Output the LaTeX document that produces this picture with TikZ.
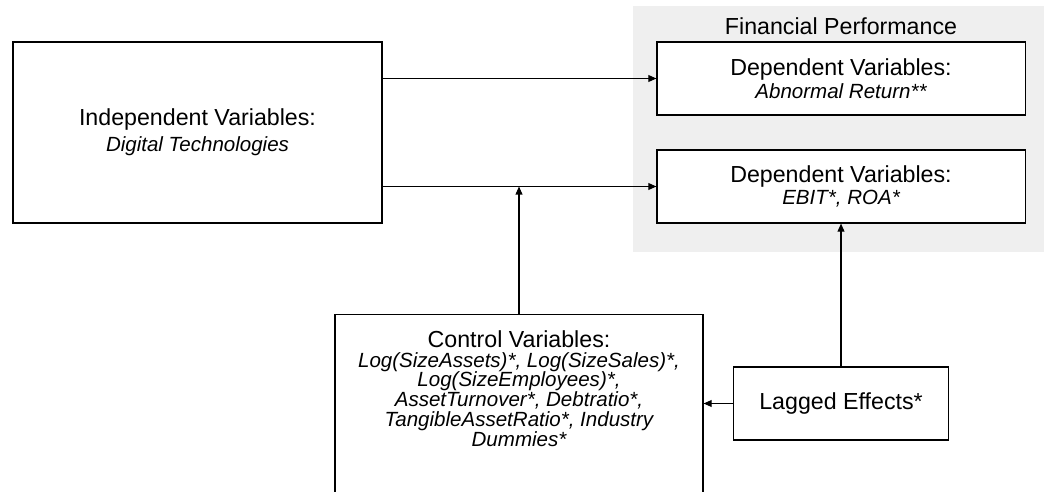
\documentclass[tikz,border=0pt]{standalone}
\usepackage{fontspec}
\setmainfont{Liberation Sans}
\usetikzlibrary{arrows.meta}

\definecolor{panelgray}{RGB}{239,239,239}
\newcommand{\headfont}{\fontsize{16.5}{14}\selectfont}
\newcommand{\varfont}{\fontsize{14.6}{14}\selectfont\itshape}

\begin{document}
\begin{tikzpicture}[x=0.025cm,y=-0.025cm,font=\headfont,
  box/.style={draw,line width=0.8pt,fill=white,align=center,inner sep=0pt},
  arr/.style={-{Triangle[length=0.2cm,width=0.17cm]},line width=0.8pt}]
\useasboundingbox (0,0) rectangle (1044,492);

% financial performance panel
\fill [panelgray] (633,6) rectangle (1044,252);
\node (title) at (841,26) {Financial Performance};

\node [box,minimum width=9.225cm,minimum height=4.525cm] (indep) at (197.5,132.5)
  {Independent Variables:\\[0.13cm]{\varfont Digital Technologies}};
\node [box,minimum width=9.2cm,minimum height=1.825cm] (dep1) at (841,78.5)
  {Dependent Variables:\\[0.05cm]{\varfont Abnormal Return**}};
\node [box,minimum width=9.2cm,minimum height=1.825cm] (dep2) at (841,186.5)
  {Dependent Variables:\\[0.05cm]{\varfont EBIT*, ROA*}};

\node [box,anchor=north,minimum width=9.2cm] (control) at (519,314)
  {\begin{minipage}[t][5cm][t]{8.8cm}\centering\lineskiplimit=-5pt
   \rule{0pt}{0.825cm}Control Variables:\\
   {\varfont Log(SizeAssets)*, Log(SizeSales)*,}\\
   {\varfont Log(SizeEmployees)*,}\\
   {\varfont AssetTurnover*, Debtratio*,}\\
   {\varfont TangibleAssetRatio*, Industry}\\
   {\varfont Dummies*}
   \end{minipage}};
\node [box,minimum width=5.375cm,minimum height=1.825cm] (lagged) at (841,403.5)
  {Lagged Effects*};

\draw [arr] (indep.east |- dep1.west) -- (dep1.west);
\draw [arr] (indep.east |- dep2.west) -- (dep2.west);

\coordinate (join) at (control.north |- dep2.west);
\draw [arr] (control.north) -- (join);
\draw [arr] (lagged.north) -- (dep2.south);
\draw [arr] (lagged.west) -- (lagged.west -| control.east);
\end{tikzpicture}
\end{document}
